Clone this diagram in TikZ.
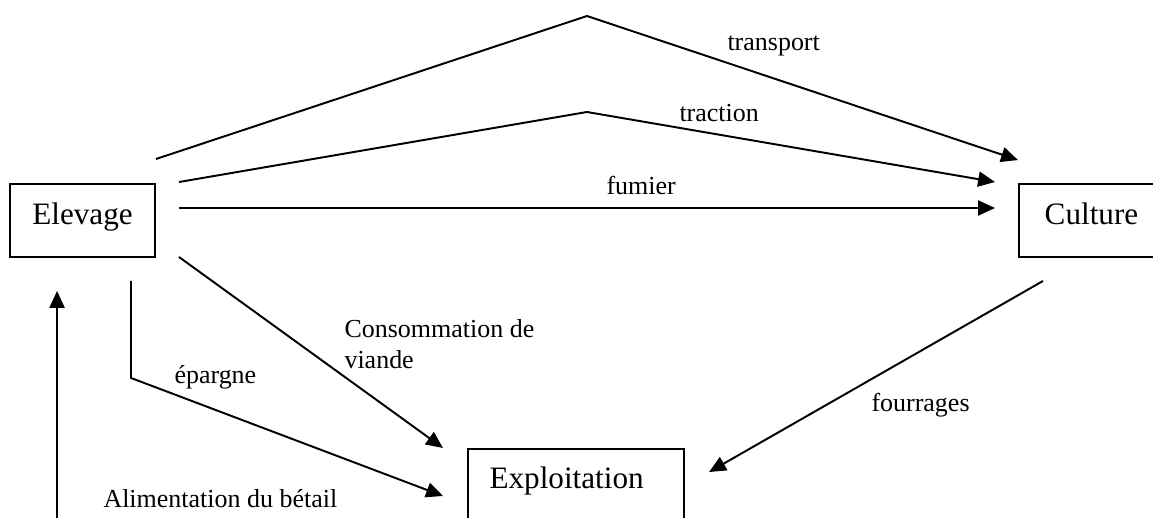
\documentclass[tikz,border=0pt]{standalone}
\usepackage{fontspec}
\setmainfont{Liberation Serif}
\usetikzlibrary{arrows.meta,calc}

\begin{document}
\begin{tikzpicture}[
  x=0.385pt, y=-0.385pt,
  box/.style={draw, line width=0.75pt, inner xsep=8.3pt, inner ysep=0pt,
              text height=15.4pt, text depth=12.7pt, minimum width=55.8pt,
              font=\fontsize{12}{14}\selectfont},
  lab/.style={anchor=base west, inner sep=0pt, align=left,
              font=\fontsize{10}{12}\selectfont},
  ln/.style={line width=0.75pt},
  arr/.style={ln, -{Triangle[length=6.5pt,width=5.8pt]}},
]
\useasboundingbox (0,0) rectangle (1153,518);
\clip (0,0) rectangle (1153,518);

\node[box] (elevage) at (82.5,220.5) {Elevage};
\node[box, anchor=west, inner xsep=7.5pt] (culture) at (1018,220.5) {Culture};
\node[box, anchor=north west, text width=66.6pt] (exploit) at (467,448) {Exploitation};

\coordinate (mid) at ($(elevage.east)!0.5!(culture.west)$);

% transport
\coordinate (trS) at ($(elevage.north east)+(0,-24)$);
\coordinate (trT) at ($(mid)+(0,-204.5)$);
\coordinate (trE) at ($(culture.north west)+(0,-23)$);
\draw[arr] (trS) -- (trT) -- (trE);
\node[lab] (ltr) at (727,51) {transport};

% traction
\coordinate (taS) at ($(elevage.north east)+(23,-1)$);
\coordinate (taT) at ($(mid)+(0,-108.5)$);
\coordinate (taE) at ($(culture.north west)+(-23,-1)$);
\draw[arr] (taS) -- (taT) -- (taE);
\node[lab] (lta) at (679,122) {traction};

% fumier
\coordinate (fuS) at ($(elevage.east)+(23,-12.5)$);
\coordinate (fuE) at ($(culture.west)+(-23,-12.5)$);
\draw[arr] (fuS) -- (fuE);
\node[lab] (lfu) at (606,195) {fumier};

% consommation
\coordinate (coS) at ($(elevage.south east)+(23,-1)$);
\coordinate (coE) at ($(exploit.north west)+(-24,0)$);
\draw[arr] (coS) -- (coE);
\node[lab] (lco) at (344,369) {Consommation de\\viande};

% epargne
\coordinate (epS) at ($(elevage.south)+(48.5,23)$);
\coordinate (epB) at ($(epS)+(0,97)$);
\coordinate (epE) at ($(exploit.north west)+(-24,48)$);
\draw[arr] (epS) -- (epB) -- (epE);
\node[lab] (lep) at (174,383) {épargne};

% fourrages
\coordinate (foS) at ($(culture.south west)+(25,23)$);
\coordinate (foE) at ($(exploit.north east)+(24,24)$);
\draw[arr] (foS) -- (foE);
\node[lab] (lfo) at (871,412) {fourrages};

% alimentation
\coordinate (alE) at ($(elevage.south west)+(48,33)$);
\coordinate (alS) at ($(alE)+(0,240)$);
\draw[arr] (alS) -- (alE);
\node[lab] (lal) at (103,507) {Alimentation du bétail};
\end{tikzpicture}
\end{document}
